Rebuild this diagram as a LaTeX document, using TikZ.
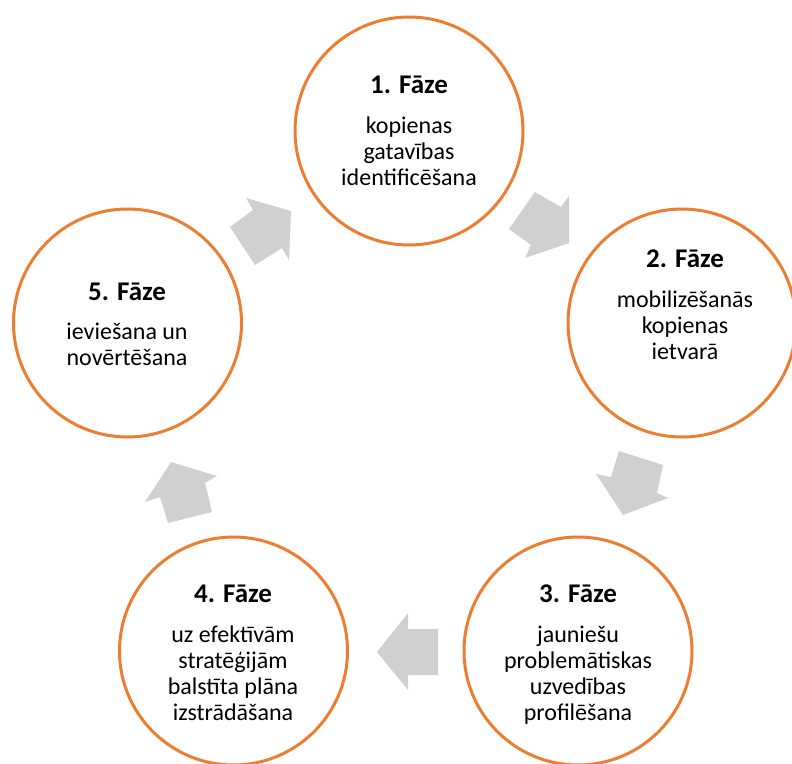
\documentclass[tikz,border=0pt]{standalone}
\usepackage{fontspec}
\setmainfont{Carlito}
\definecolor{phaseorange}{HTML}{ED7D31}
\definecolor{arrowgray}{HTML}{D0D0D0}
\tikzset{
  phase/.style={circle, draw=phaseorange, line width=3pt, fill=white, minimum size=228pt, inner sep=0pt},
  ttl/.style={anchor=base, font=\fontsize{27}{30}\selectfont\bfseries, inner sep=0pt},
  body/.style={anchor=north, align=center, font=\fontsize{24}{26}\selectfont, inner sep=0pt}
}
\begin{document}
\begin{tikzpicture}[x=1pt,y=-1pt]
\useasboundingbox (0,0) rectangle (792,763);
% block arrows
\fill[arrowgray] (535,192) -- (561,207) -- (569,196) -- (569,243) -- (525,258) -- (531,245) -- (509,229) -- cycle;
\fill[arrowgray] (619,451) -- (663,465) -- (657,493) -- (668,498) -- (623,515) -- (596,474) -- (611,477) -- cycle;
\fill[arrowgray] (438,629) -- (408,629) -- (408,613) -- (377,652) -- (408,690) -- (408,675) -- (438,675) -- cycle;
\fill[arrowgray] (171,462) -- (217,476) -- (205,483) -- (212,512) -- (168,523) -- (160,497) -- (145,502) -- cycle;
\fill[arrowgray] (230,227) -- (253,210) -- (246,198) -- (291,211) -- (289,260) -- (282,248) -- (255,265) -- cycle;
% circles
\node[phase] (p1) at (409,131) {};
\node[phase] (p2) at (682,323) {};
\node[phase] (p3) at (578,651) {};
\node[phase] (p4) at (233.5,651) {};
\node[phase] (p5) at (127.5,323) {};
% texts (body nodes: first-line strut height 18.2pt above its baseline)
\node[ttl] (t1) at (409,93) {1. Fāze};
\node[body] (b1) at (409,114.8) {\strut kopienas\\gatavības\\identificēšana};
\node[ttl] (t2) at (685,267) {2. Fāze};
\node[body] (b2) at (685,288.8) {\strut mobilizēšanās\\kopienas\\ietvarā};
\node[ttl] (t3) at (578,602) {3. Fāze};
\node[body] (b3) at (578,623.8) {\strut jauniešu\\problemātiskas\\uzvedības\\profilēšana};
\node[ttl] (t4) at (233,602) {4. Fāze};
\node[body] (b4) at (233,623.8) {\strut uz efektīvām\\stratēģijām\\balstīta plāna\\izstrādāšana};
\node[ttl] (t5) at (127,300) {5. Fāze};
\node[body] (b5) at (127,320.8) {\strut ieviešana un\\novērtēšana};
\end{tikzpicture}
\end{document}
